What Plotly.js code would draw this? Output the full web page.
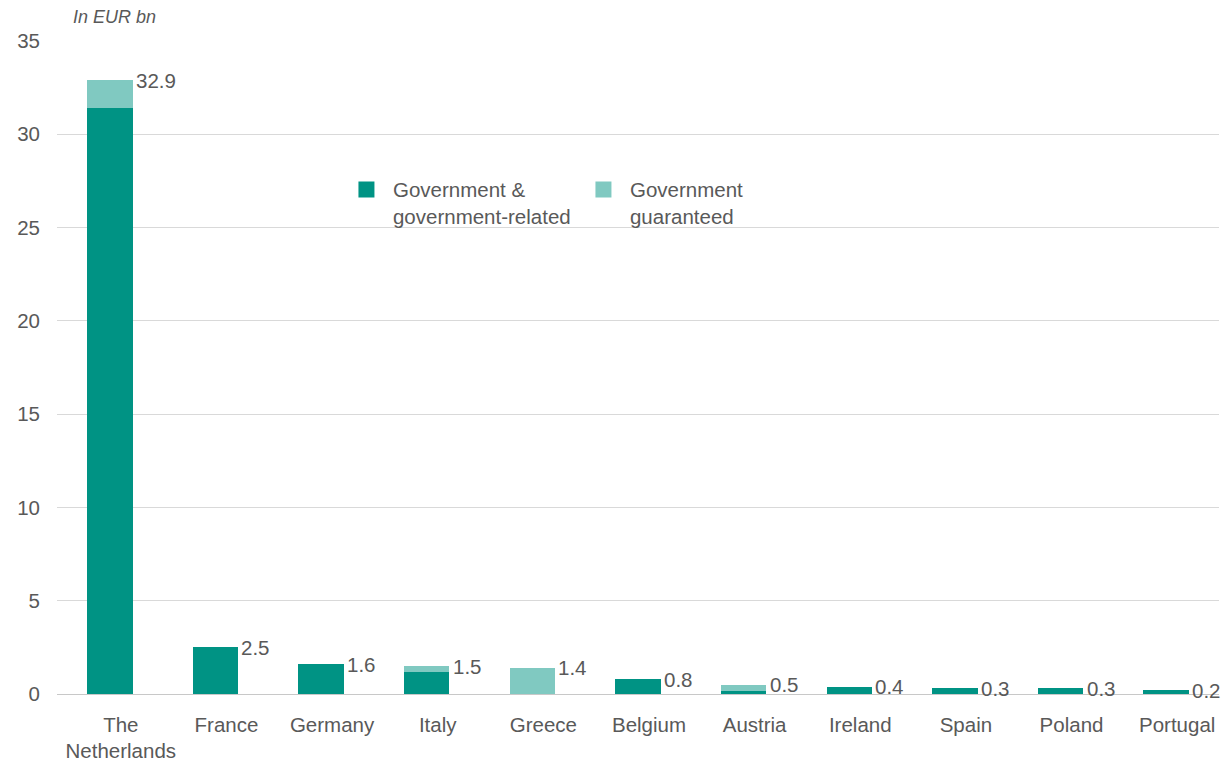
<!DOCTYPE html>
<html>
<head>
<meta charset="utf-8">
<script src="https://cdn.plot.ly/plotly-3.0.1.min.js"></script>
<style>html,body{margin:0;padding:0;background:#fff;}#chart{width:1222px;height:767px;}</style>
</head>
<body>
<div id="chart"></div>
<script>
const categories = ["The<br>Netherlands","France","Germany","Italy","Greece","Belgium","Austria","Ireland","Spain","Poland","Portugal"];
const govRelated = [31.4, 2.5, 1.6, 1.2, 0, 0.8, 0.15, 0.4, 0.3, 0.3, 0.2];
const govGuaranteed = [1.5, 0, 0, 0.3, 1.4, 0, 0.35, 0, 0, 0, 0];
const totalLabels = ["32.9","2.5","1.6","1.5","1.4","0.8","0.5","0.4","0.3","0.3","0.2"];
const seriesNames = ["Government &<br>government-related","Government<br>guaranteed"];

const DARK = "#009384", LIGHT = "#80C9C1", TXT = "#595959";
const FONT = "Arial, 'Liberation Sans', sans-serif";
const FS = 20.5;
const BW = 0.43;          // bar width (category units)
const SHIFT = 0.104;      // bars sit slightly left of the category label
const OFF = -SHIFT - BW/2;

const traces = [
  {type:"bar", x:categories, y:govRelated, name:seriesNames[0], marker:{color:DARK}, width:BW, offset:OFF, hoverinfo:"skip", showlegend:false},
  {type:"bar", x:categories, y:govGuaranteed, name:seriesNames[1], marker:{color:LIGHT}, width:BW, offset:OFF, hoverinfo:"skip", showlegend:false},
  // legend entries (larger square swatches)
  {type:"scatter", mode:"markers", x:[null], y:[null], name:seriesNames[0], marker:{symbol:"square", size:16, color:DARK}, showlegend:true, hoverinfo:"skip"},
  {type:"scatter", mode:"markers", x:[null], y:[null], name:seriesNames[1], marker:{symbol:"square", size:16, color:LIGHT}, showlegend:true, hoverinfo:"skip"}
];

const annotations = categories.map((c,i)=>({
  x:c, y:govRelated[i]+govGuaranteed[i], xref:"x", yref:"y",
  text:totalLabels[i], showarrow:false, xanchor:"left", yanchor:"middle",
  xshift:13, font:{family:FONT, size:FS, color:TXT}
}));
annotations.push({
  xref:"paper", yref:"paper", x:0.012, y:1.0, yshift:24, xanchor:"left", yanchor:"middle",
  text:"<i>In EUR bn</i>", showarrow:false, font:{family:FONT, size:18, color:TXT}
});

const layout = {
  width:1222, height:767,
  margin:{l:57, r:3, t:41, b:73},
  barmode:"stack",
  paper_bgcolor:"#fff", plot_bgcolor:"#fff",
  font:{family:FONT, color:TXT, size:FS},
  showlegend:true,
  legend:{orientation:"h", x:0.2435, y:0.803, xanchor:"left", yanchor:"top",
    valign:"top", font:{family:FONT, size:FS, color:TXT}, itemwidth:43, itemsizing:"trace",
    entrywidth:179, entrywidthmode:"pixels",
    traceorder:"normal", bgcolor:"rgba(0,0,0,0)"},
  xaxis:{type:"category", range:[-0.5-SHIFT, categories.length-0.5-SHIFT], showgrid:false,
    showline:true, linecolor:"#c8c8c8", linewidth:1,
    ticks:"", tickfont:{family:FONT, size:FS, color:TXT}, ticklabelstandoff:12, fixedrange:true},
  yaxis:{range:[0,35], dtick:5, tick0:0, showgrid:true, gridcolor:"#d9d9d9", gridwidth:1,
    zeroline:false, showline:false, ticks:"", tickfont:{family:FONT, size:FS, color:TXT},
    ticklabelstandoff:16, fixedrange:true},
  annotations:annotations
};

Plotly.newPlot("chart", traces, layout, {displayModeBar:false, staticPlot:true});
</script>
</body>
</html>
